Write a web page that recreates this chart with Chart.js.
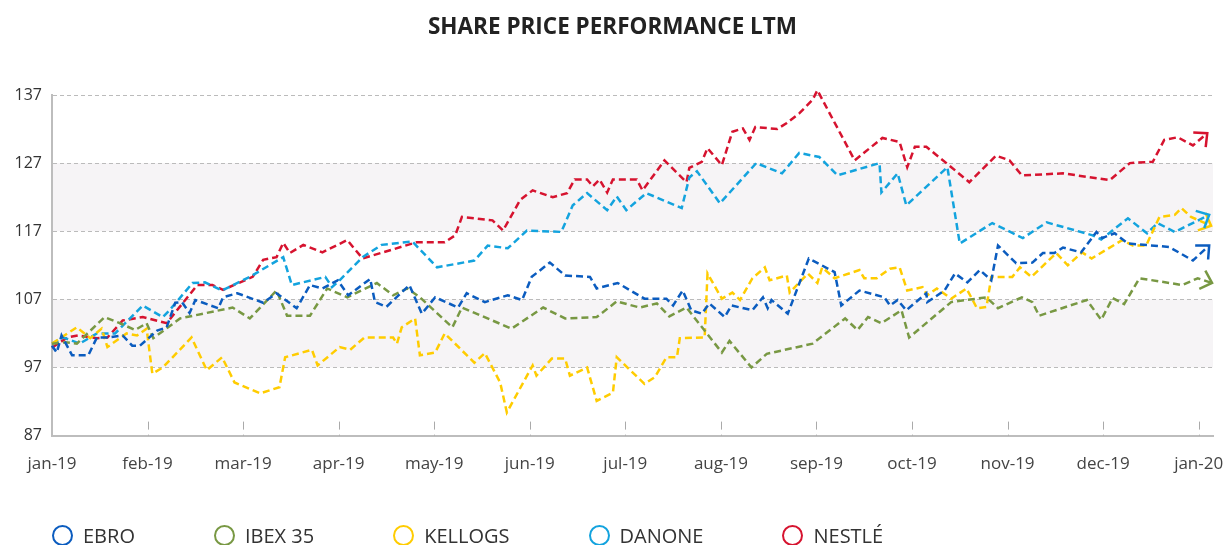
<!DOCTYPE html>
<html>
<head>
<meta charset="utf-8">
<script src="https://cdn.jsdelivr.net/npm/chart.js@4.4.1/dist/chart.umd.min.js"></script>
<style>
  html, body { margin: 0; padding: 0; background: #fff; }
  #wrap { position: relative; width: 1227px; height: 545px; overflow: hidden; }
  #legend { position: absolute; left: 52px; top: 525px; display: flex; font-family: "Open Sans"; font-size: 20px; color: #333; }
  #legend .item { display: flex; align-items: center; margin-right: 79px; }
  #legend .dot { width: 21px; height: 21px; box-sizing: border-box; border-radius: 50%; border: 2.5px solid; background: #fff; }
  #legend .txt { margin-left: 10px; line-height: 21px; }
</style>
</head>
<body>
<div id="wrap">
  <canvas id="myChart" width="1227" height="545"></canvas>
  <div id="legend"></div>
</div>
<script>
// x values are months since jan-19 (0 = jan-19, 12 = jan-20)
const monthLabels = ['jan-19','feb-19','mar-19','apr-19','may-19','jun-19','jul-19','aug-19','sep-19','oct-19','nov-19','dec-19','jan-20'];
const yTicks = [87, 97, 107, 117, 127, 137];
const shadedBands = [[97, 107], [117, 127]];
const seriesNames = ['EBRO', 'IBEX 35', 'KELLOGS', 'DANONE', 'NESTLÉ'];
const seriesColors = ['#0b5cbf', '#789843', '#ffcc00', '#13a3de', '#d6132f'];

const ebroX = [0,0.05,0.10,0.21,0.38,0.47,0.58,0.74,0.84,0.92,1.10,1.20,1.29,1.36,1.44,1.50,1.74,1.79,1.94,2.21,
  2.35,2.56,2.70,2.83,2.99,3.10,3.33,3.38,3.50,3.74,3.87,4.01,4.25,4.34,4.53,4.77,4.92,5.02,5.21,5.37,
  5.63,5.70,5.92,6.20,6.43,6.50,6.60,6.69,6.80,6.88,7.04,7.11,7.33,7.44,7.49,7.53,7.70,7.92,8.19,8.26,
  8.45,8.71,8.77,8.85,8.94,9.15,9.16,9.34,9.45,9.58,9.71,9.83,9.90,10.09,10.26,10.37,10.49,10.58,10.77,10.93,
  10.99,11.12,11.26,11.69,11.94,12.11];
const ebroY = [100.2,99.2,101.7,98.8,98.8,101.4,101.4,101.7,100.2,100.2,102.4,102.9,106.5,106.6,105.0,106.9,105.7,107.3,107.9,106.5,
  107.9,105.7,109.1,108.6,109.8,107.6,110.0,106.6,105.9,109.1,104.9,107.3,105.8,107.9,106.6,107.6,106.9,110.3,112.4,110.5,
  110.3,108.6,109.4,107.1,107.1,106.1,108.3,105.4,104.9,106.4,104.4,106.1,105.4,107.3,105.7,106.9,104.9,113.0,111.0,106.1,
  108.3,107.3,106.1,106.9,105.4,107.9,106.6,108.3,110.8,109.5,111.3,109.8,114.9,112.3,112.4,113.8,113.8,114.6,113.9,116.9,
  116.0,116.7,115.2,114.7,112.7,114.9];

const ibexX = [0,0.14,0.26,0.55,0.71,0.87,0.99,1.06,1.34,1.89,2.07,2.35,2.46,2.70,2.88,3.09,3.40,3.57,3.72,3.85,
  4.19,4.29,4.81,5.14,5.37,5.70,5.91,6.15,6.33,6.46,6.64,7.01,7.09,7.32,7.48,7.96,8.30,8.43,8.54,8.68,
  8.89,8.97,9.41,9.78,9.90,10.15,10.26,10.33,10.83,10.98,11.10,11.22,11.38,11.83,11.99,12.14];
const ibexY = [100.5,100.7,100.5,104.4,103.5,102.5,103.5,101.3,104.2,105.8,104.2,108.3,104.6,104.6,108.6,107.3,109.4,107.6,108.6,107.3,
  102.9,105.8,102.7,105.8,104.2,104.4,106.7,105.8,106.4,104.5,105.8,99.2,100.9,97.0,99.0,100.5,104.2,102.5,104.4,103.5,
  105.4,101.4,106.6,107.3,105.7,107.3,106.6,104.6,106.9,104.0,107.2,106.3,110.1,109.1,110.1,109.4];

const kellogsX = [0,0.26,0.40,0.52,0.58,0.78,0.89,0.99,1.05,1.16,1.46,1.62,1.78,1.91,2.18,2.38,2.44,2.72,2.78,3.01,
  3.12,3.27,3.57,3.61,3.66,3.80,3.85,4.01,4.11,4.42,4.53,4.69,4.76,5.03,5.07,5.23,5.37,5.42,5.60,5.70,
  5.87,5.91,6.20,6.31,6.43,6.54,6.57,6.83,6.86,7.01,7.12,7.20,7.33,7.46,7.51,7.69,7.72,7.91,8.01,8.06,
  8.19,8.45,8.50,8.63,8.77,8.87,8.95,9.11,9.16,9.26,9.41,9.57,9.68,9.78,9.83,10.05,10.13,10.25,10.51,10.63,
  10.78,10.88,11.20,11.31,11.45,11.59,11.75,11.82,11.92,12.13];
const kellogsY = [100.5,102.9,101.3,102.7,100.0,102.0,101.7,102.7,96.1,97.0,101.4,96.6,98.5,94.8,93.2,94.1,98.5,99.6,97.3,100.0,
  99.6,101.4,101.4,100.5,102.9,104.2,98.8,99.2,102.0,97.7,99.1,94.8,90.4,97.3,95.8,98.3,98.3,95.8,97.0,92.1,
  93.3,98.5,94.6,95.6,98.5,98.5,101.3,101.4,110.8,107.1,108.0,106.9,110.1,111.7,109.8,110.5,108.0,110.8,109.4,111.7,
  110.1,111.3,110.1,110.1,111.5,111.7,108.3,108.8,107.6,108.6,107.1,108.6,105.7,105.9,110.3,110.3,111.7,110.3,113.8,112.0,
  113.9,113.0,115.7,114.9,114.9,119.1,119.4,120.4,119.1,117.8];

const danoneX = [0,0.12,0.29,0.47,0.66,0.95,1.16,1.23,1.47,1.60,1.78,2.07,2.42,2.51,2.86,2.93,3.01,3.25,3.45,3.77,
  4.03,4.42,4.56,4.77,4.97,5.33,5.45,5.60,5.81,5.91,6.01,6.22,6.59,6.67,6.75,6.99,7.37,7.64,7.82,8.03,
  8.22,8.66,8.68,8.85,8.94,9.37,9.50,9.84,10.16,10.41,10.89,10.98,11.26,11.46,11.57,11.75,12.11];
const danoneY = [100.5,101.4,100.5,102.0,102.0,106.1,104.4,105.4,109.4,109.5,108.3,110.3,113.2,109.1,110.3,108.8,109.8,113.2,115.0,115.5,
  111.7,112.7,114.9,114.5,117.1,116.9,120.8,122.6,120.1,122.1,120.1,122.6,120.4,124.9,125.8,121.1,127.0,125.5,128.5,127.9,
  125.2,127.0,122.7,125.5,120.8,126.4,115.2,118.2,116.0,118.3,116.4,115.8,118.9,116.7,118.2,116.9,119.4];

const nestleX = [0,0.16,0.27,0.47,0.58,0.74,0.95,1.20,1.52,1.68,1.79,2.10,2.21,2.35,2.42,2.49,2.63,2.83,3.09,3.25,
  3.82,4.11,4.22,4.29,4.61,4.72,4.90,5.03,5.24,5.39,5.47,5.60,5.66,5.73,5.81,5.87,6.12,6.18,6.41,6.64,
  6.67,6.80,6.86,7.01,7.12,7.23,7.30,7.36,7.59,7.69,7.82,7.96,8.01,8.40,8.69,8.87,8.95,9.03,9.15,9.36,
  9.60,9.88,10.02,10.15,10.58,11.07,11.28,11.52,11.64,11.78,11.94,12.09];
const nestleY = [99.9,101.4,101.7,101.3,101.4,103.9,104.4,103.5,109.1,109.1,108.4,110.3,112.8,113.2,115.3,113.8,115.0,113.9,115.7,113.0,
  115.4,115.4,116.4,119.1,118.6,117.1,121.6,123.0,122.0,122.6,124.6,124.6,123.6,124.6,122.7,124.6,124.6,123.0,127.4,124.2,
  126.3,127.2,129.2,126.7,131.6,132.1,130.4,132.3,132.0,132.9,134.3,136.3,137.7,127.4,130.7,130.1,126.4,129.4,129.4,127.0,
  124.2,128.1,127.4,125.2,125.5,124.5,127.0,127.2,130.4,130.8,129.6,131.4];

const seriesX = [ebroX, ibexX, kellogsX, danoneX, nestleX];
const seriesY = [ebroY, ibexY, kellogsY, danoneY, nestleY];

function toPoints(xs, ys) {
  return xs.map((x, i) => ({ x: x, y: ys[i] }));
}

const bandsPlugin = {
  id: 'bands',
  beforeDraw(chart) {
    const { ctx, chartArea, scales } = chart;
    ctx.save();
    ctx.fillStyle = '#f6f4f6';
    shadedBands.forEach(b => {
      const top = scales.y.getPixelForValue(b[1]);
      const bottom = scales.y.getPixelForValue(b[0]);
      ctx.fillRect(chartArea.left, top, chartArea.right - chartArea.left, bottom - top);
    });
    ctx.restore();
  },
  beforeDatasetsDraw(chart) {
    // small dashed month marks standing on the x axis
    const { ctx, chartArea, scales } = chart;
    ctx.save();
    ctx.strokeStyle = '#aaa';
    ctx.lineWidth = 1;
    ctx.setLineDash([8, 5]);
    for (let i = 1; i < monthLabels.length; i++) {
      const x = Math.round(scales.x.getPixelForValue(i)) + 0.5;
      ctx.beginPath();
      ctx.moveTo(x, chartArea.bottom - 14);
      ctx.lineTo(x, chartArea.bottom);
      ctx.stroke();
    }
    ctx.restore();
  }
};

const arrowPlugin = {
  id: 'arrows',
  afterDatasetsDraw(chart) {
    const ctx = chart.ctx;
    chart.data.datasets.forEach((ds, i) => {
      const pts = chart.getDatasetMeta(i).data;
      const a = pts[pts.length - 2], b = pts[pts.length - 1];
      const ang = Math.atan2(b.y - a.y, b.x - a.x);
      const len = 14, spread = 0.75;
      ctx.save();
      ctx.strokeStyle = ds.borderColor;
      ctx.lineWidth = 2.5;
      ctx.setLineDash([]);
      ctx.beginPath();
      ctx.moveTo(b.x - len * Math.cos(ang - spread), b.y - len * Math.sin(ang - spread));
      ctx.lineTo(b.x, b.y);
      ctx.lineTo(b.x - len * Math.cos(ang + spread), b.y - len * Math.sin(ang + spread));
      ctx.stroke();
      ctx.restore();
    });
  }
};

const datasets = seriesNames.map((name, i) => ({
  label: name,
  data: toPoints(seriesX[i], seriesY[i]),
  borderColor: seriesColors[i],
  backgroundColor: seriesColors[i],
  borderWidth: 2.5,
  borderDash: [7, 4],
  pointRadius: 0,
  tension: 0,
  fill: false,
  clip: 10
}));

var chartField = document.querySelector('#myChart').getContext('2d');
var myChart = new Chart(chartField, {
  type: 'line',
  data: { datasets: datasets },
  options: {
    responsive: false,
    animation: false,
    layout: { padding: { left: 12, right: 14, bottom: 53 } },
    plugins: {
      legend: { display: false },
      tooltip: { enabled: false },
      title: {
        display: true,
        text: 'SHARE PRICE PERFORMANCE LTM',
        color: '#222',
        font: { family: 'Open Sans', size: 22.5, weight: 'bold' },
        padding: { top: 14, bottom: 54 }
      }
    },
    scales: {
      x: {
        type: 'linear',
        min: 0,
        max: 12.15,
        afterBuildTicks: s => { s.ticks = monthLabels.map((l, i) => ({ value: i })); },
        afterFit: s => { s.paddingLeft = 0; s.paddingRight = 0; },
        grid: { display: false, drawTicks: false },
        border: { display: true, color: '#bdbdbd', width: 2 },
        ticks: {
          autoSkip: false,
          maxRotation: 0,
          padding: 18,
          color: '#444',
          font: { family: 'Open Sans', size: 17 },
          callback: v => monthLabels[v]
        }
      },
      y: {
        min: 87,
        max: 137,
        afterBuildTicks: s => { s.ticks = yTicks.map(v => ({ value: v })); },
        afterFit: s => { s.width = 40; },
        grid: { color: '#bbb', lineWidth: 1, drawTicks: false },
        border: { display: true, color: '#bdbdbd', width: 2, dash: [4, 3] },
        ticks: {
          padding: 10,
          color: '#333',
          font: { family: 'Open Sans', size: 16 }
        }
      }
    }
  },
  plugins: [bandsPlugin, arrowPlugin]
});

// legend below the chart
const legendBox = document.querySelector('#legend');
seriesNames.forEach((name, i) => {
  const item = document.createElement('div');
  item.className = 'item';
  const dot = document.createElement('span');
  dot.className = 'dot';
  dot.style.borderColor = seriesColors[i];
  const txt = document.createElement('span');
  txt.className = 'txt';
  txt.textContent = name;
  item.appendChild(dot);
  item.appendChild(txt);
  legendBox.appendChild(item);
});
</script>
</body>
</html>
